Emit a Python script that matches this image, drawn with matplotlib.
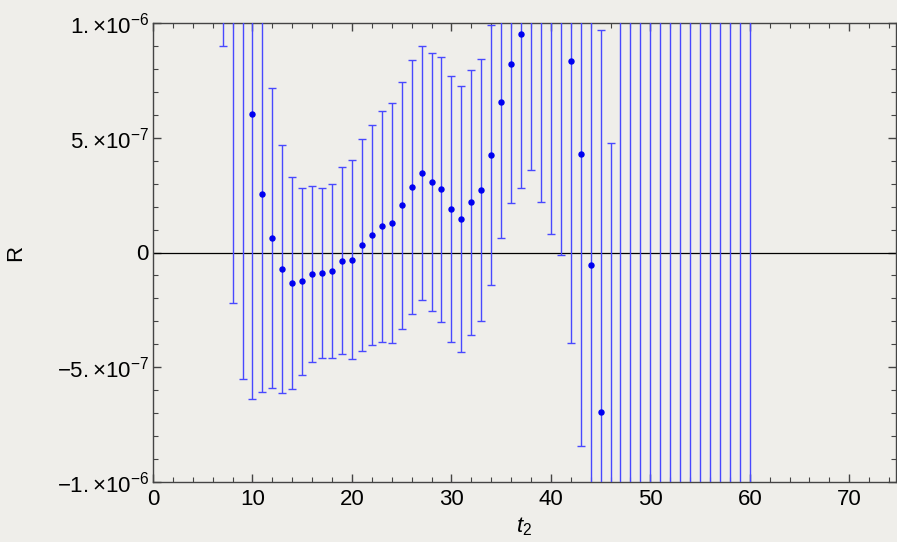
import matplotlib
matplotlib.use("Agg")
import matplotlib.pyplot as plt
from matplotlib.ticker import MultipleLocator, FixedLocator

plt.rcParams['font.family'] = ['Liberation Sans', 'DejaVu Sans']
plt.rcParams['mathtext.fontset'] = 'custom'
plt.rcParams['mathtext.rm'] = 'Liberation Sans'
plt.rcParams['mathtext.it'] = 'Liberation Sans:italic'
plt.rcParams['mathtext.default'] = 'rm'

# t2 values
t2 = list(range(7, 61))
# R mean values (units of 1e-6)
r_mean = [1.20, 1.10, 1.05, 0.604, 0.253, 0.063, -0.073, -0.134, -0.125, -0.095,
          -0.089, -0.080, -0.035, -0.031, 0.032, 0.076, 0.115, 0.130, 0.205, 0.284,
          0.345, 0.306, 0.275, 0.188, 0.146, 0.218, 0.274, 0.425, 0.654, 0.821,
          0.952, 1.05, 1.02, 1.10, 1.15, 0.833, 0.429, -0.055, -0.697, -1.20,
          1.40, -1.35, 1.50, -1.60, 1.30, -1.45, 1.70, -1.25, 1.55, -1.80,
          1.35, -1.50, 1.65, -1.40]
# R errors (units of 1e-6)
r_err = [0.30, 1.32, 1.60, 1.243, 0.859, 0.654, 0.541, 0.462, 0.407, 0.383,
         0.371, 0.380, 0.406, 0.435, 0.463, 0.481, 0.503, 0.523, 0.537, 0.554,
         0.554, 0.562, 0.579, 0.580, 0.580, 0.577, 0.571, 0.566, 0.589, 0.606,
         0.671, 0.69, 0.80, 1.02, 1.16, 1.227, 1.273, 1.30, 1.666, 1.675,
         3.0, 3.1, 3.2, 3.3, 3.2, 3.4, 3.5, 3.3, 3.6, 3.7,
         3.5, 3.8, 3.9, 3.7]
scale = 1e-6
ytick_vals = [-1e-6, -5e-7, 0, 5e-7, 1e-6]
ytick_labels = [r'$-1.{\times}10^{-6}$', r'$-5.{\times}10^{-7}$', '0',
                r'$5.{\times}10^{-7}$', r'$1.{\times}10^{-6}$']

bg = '#efeeea'
fig = plt.figure(figsize=(8.97, 5.42), dpi=100, facecolor=bg)
ax = fig.add_axes([153/897, 1-482/542, (896-153)/897, (482-23)/542])
ax.set_facecolor(bg)

y = [m*scale for m in r_mean]
e = [v*scale for v in r_err]
ax.errorbar(t2, y, yerr=e, fmt='o', color='#0000f0', markersize=3.6,
            ecolor='#4848ff', elinewidth=1.0, capsize=2.6, capthick=1.0, zorder=3)
ax.axhline(0, color='black', lw=0.9, zorder=2)

ax.set_xlim(0, 74.7)
ax.set_ylim(-1e-6, 1e-6)
ax.xaxis.set_major_locator(MultipleLocator(10))
ax.xaxis.set_minor_locator(MultipleLocator(2))
ax.yaxis.set_major_locator(FixedLocator(ytick_vals))
ax.yaxis.set_minor_locator(MultipleLocator(1e-7))
ax.set_yticklabels(ytick_labels)
ax.tick_params(which='both', direction='in', top=True, right=True, color='#444444',
               labelsize=16, labelcolor='black')
ax.tick_params(axis='y', which='major', pad=3)
ax.tick_params(which='major', length=6, width=1.0)
ax.tick_params(axis='x', which='major', pad=5)
ax.tick_params(which='minor', length=3.5, width=0.8)
for s in ax.spines.values():
    s.set_color('#444444')
    s.set_linewidth(1.0)

ax.set_xlabel(r'$\mathit{t}_2$', fontsize=16, labelpad=4)
ax.set_ylabel('R', fontsize=16, labelpad=22)

fig.savefig('out.png', dpi=100, facecolor=bg)
